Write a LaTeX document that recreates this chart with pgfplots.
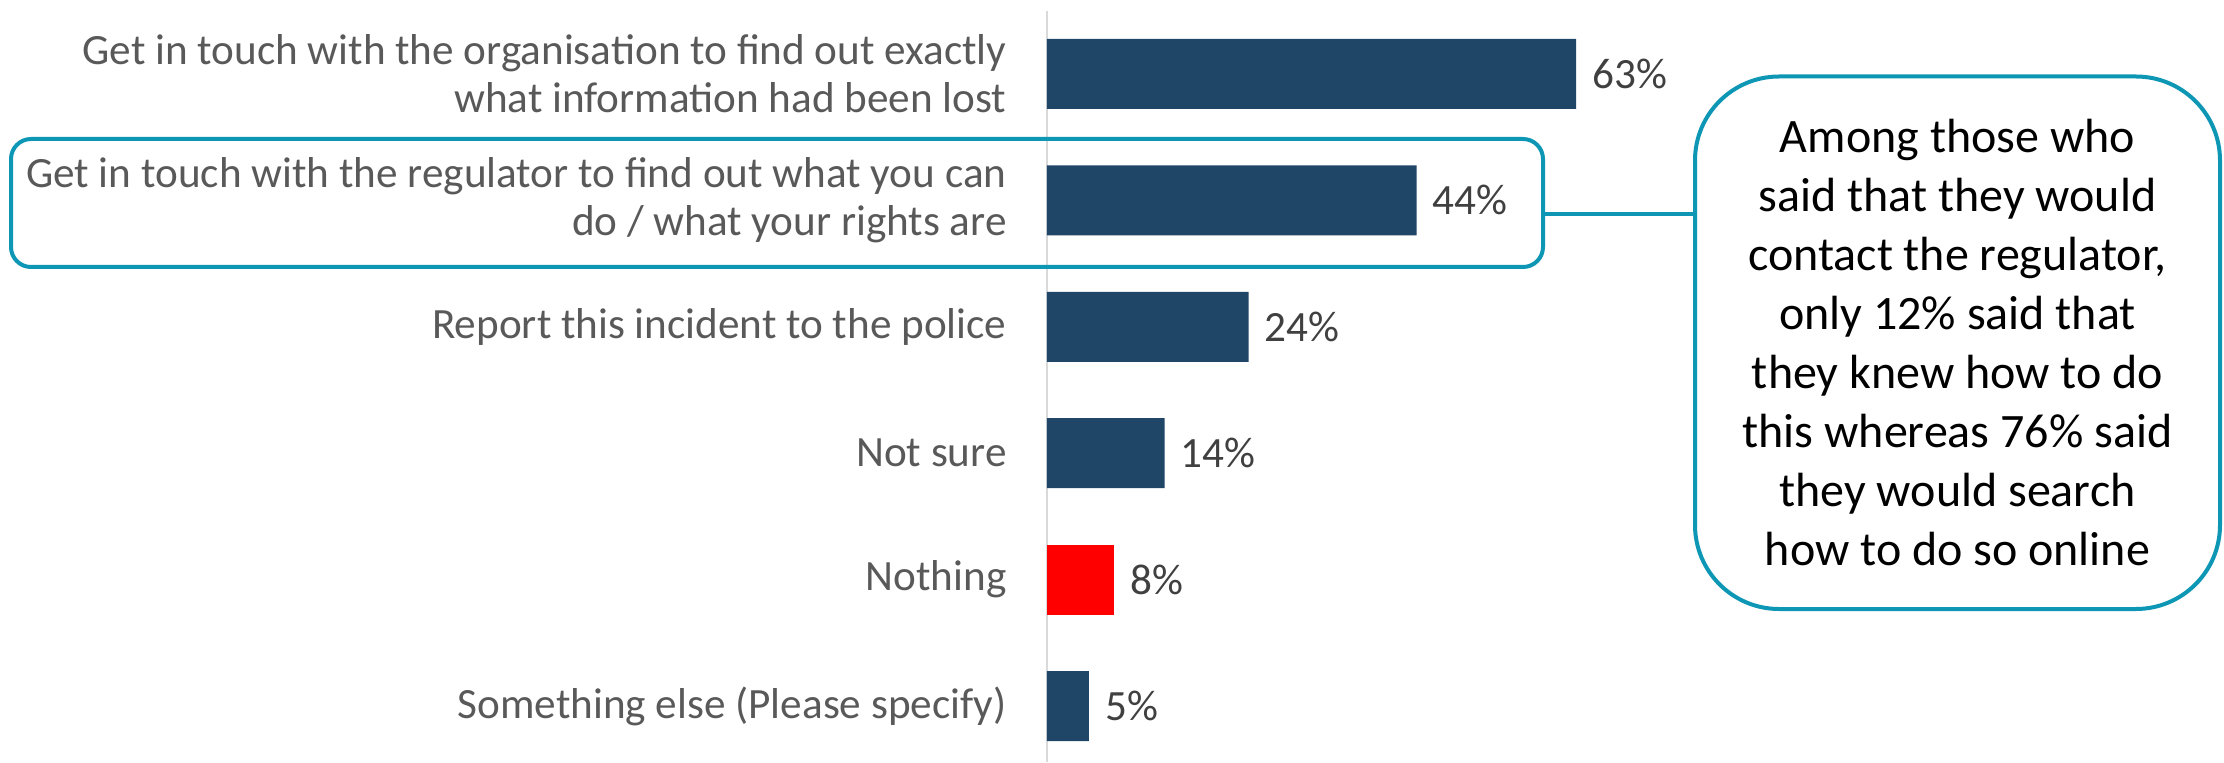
\documentclass[border=0pt]{standalone}
\usepackage{pgfplots}
\pgfplotsset{compat=1.18}
\usepackage{fontspec}
\setmainfont{Carlito}
\definecolor{barblue}{HTML}{1F4567}
\definecolor{barred}{HTML}{FF0000}
\definecolor{tealc}{HTML}{0E97B4}
\definecolor{labgray}{HTML}{595959}
\definecolor{valgray}{HTML}{404040}
\begin{document}
\begin{tikzpicture}
\begin{axis}[
  at={(523.5pt,0pt)}, anchor=south west,
  scale only axis, width=420pt, height=375.5pt,
  xbar, bar width=35pt, bar shift=0pt,
  xmin=0, xmax=100, ymin=-0.443, ymax=5.498,
  axis x line=none,
  axis y line*=left,
  y axis line style={draw=black!15, line width=1pt, -},
  ytick={0,1,2,3,4,5},
  yticklabels={Something else (Please specify), Nothing, Not sure, Report this incident to the police, {Get in touch with the regulator to find out what you can\\do / what your rights are}, {Get in touch with the organisation to find out exactly\\what information had been lost}},
  ytick style={draw=none},
  major tick length=0pt,
  /pgf/number format/assume math mode=true,
  yticklabel style={align=right, font=\fontsize{21.6}{24}\selectfont, text=labgray, inner sep=0pt, xshift=-20pt},
  nodes near coords={\pgfmathprintnumber{\pgfplotspointmeta}\%},
  every node near coord/.append style={font=\fontsize{21.6}{24}\selectfont, text=valgray, inner sep=0pt, xshift=8pt, anchor=west},
]
\addplot[fill=barblue, draw=none] coordinates {(63,5) (44,4) (24,3) (14,2) (5,0)};
\addplot[fill=barred, draw=none] coordinates {(8,1)};
\end{axis}
\draw[tealc, line width=2pt, rounded corners=10pt] (5.5pt,247.5pt) rectangle (771.5pt,311.5pt);
\draw[tealc, line width=2pt] (771.5pt,274pt) -- (847.5pt,274pt);
\draw[tealc, line width=2pt, rounded corners=42pt, fill=white] (847.5pt,76.5pt) rectangle (1110pt,342.75pt);
\node[align=center, font=\fontsize{24}{29.5}\selectfont, text=black] at (978.75pt,209.6pt) {Among those who\\said that they would\\contact the regulator,\\only 12\% said that\\they knew how to do\\this whereas 76\% said\\they would search\\how to do so online};
\pgfresetboundingbox
\useasboundingbox (0,0) rectangle (1112pt,381pt);
\end{tikzpicture}
\end{document}
